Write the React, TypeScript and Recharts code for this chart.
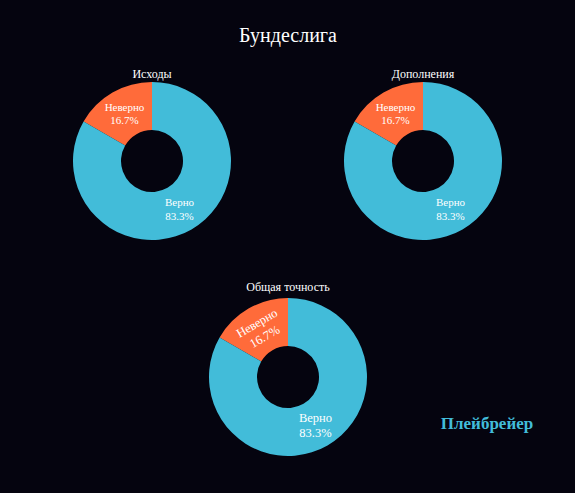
import { PieChart, Pie, Cell } from 'recharts';

const categories = ["Неверно", "Верно"];
const outcomesValues = [1, 5];
const additionsValues = [1, 5];
const overallValues = [1, 5];
const panelTitles = ["Исходы", "Дополнения", "Общая точность"];
const colors = ["#ff6b3a", "#42bcd9"];

const BG = "#05040f";
const FONT = "Liberation Serif";
const RAD = Math.PI / 180;

const toRows = (values: number[]) => categories.map((name, i) => ({ name, value: values[i] }));

const makeLabel = (fontSize: number, rotateWrong: boolean) => (props: any) => {
	const { cx, cy, midAngle, innerRadius, outerRadius, percent, name } = props;
	const r = (innerRadius + outerRadius) / 2;
	const x = cx + r * Math.cos(-midAngle * RAD);
	const y = cy + r * Math.sin(-midAngle * RAD);
	const rot = rotateWrong && name === "Неверно" ? -(midAngle - 90) : 0;
	return (
		<text
			x={x}
			y={y}
			fill="#fff"
			textAnchor="middle"
			style={{ fontFamily: FONT, fontSize }}
			transform={rot ? `rotate(${rot} ${x} ${y})` : undefined}
		>
			<tspan x={x} dy={-fontSize * 0.25}>{name}</tspan>
			<tspan x={x} dy={fontSize * 1.25}>{(percent * 100).toFixed(1)}%</tspan>
		</text>
	);
};

function Donut({ values, left, top, fontSize, rotateWrong }: { values: number[], left: number, top: number, fontSize: number, rotateWrong?: boolean }) {
	return (
		<div style={{ position: 'absolute', left, top }}>
			<PieChart width={170} height={170} margin={{ top: 0, right: 0, bottom: 0, left: 0 }}>
				<Pie
					data={toRows(values)}
					dataKey="value"
					cx={85}
					cy={85}
					innerRadius={31}
					outerRadius={79}
					startAngle={90}
					endAngle={450}
					stroke="none"
					labelLine={false}
					label={makeLabel(fontSize, !!rotateWrong)}
					isAnimationActive={false}
				>
					{categories.map((c, i) => <Cell key={c} fill={colors[i]} />)}
				</Pie>
			</PieChart>
		</div>
	);
}

const textStyle = (x: number, y: number, size: number): React.CSSProperties => ({
	position: 'absolute',
	left: x - 150,
	top: y - size * 0.6,
	width: 300,
	textAlign: 'center',
	fontFamily: FONT,
	fontSize: size,
	lineHeight: `${size * 1.2}px`,
	color: '#fff',
});

export default function App() {
	return (
		<div style={{ position: 'fixed', left: 0, top: 0, width: 575, height: 493, background: BG, overflow: 'hidden' }}>
			<div style={textStyle(288, 35, 20)}>Бундеслига</div>
			<div style={textStyle(152, 74, 12)}>{panelTitles[0]}</div>
			<div style={textStyle(423, 74, 12)}>{panelTitles[1]}</div>
			<div style={textStyle(288, 287, 12)}>{panelTitles[2]}</div>
			<Donut values={outcomesValues} left={152 - 85} top={160.5 - 85} fontSize={11} />
			<Donut values={additionsValues} left={423 - 85} top={160.5 - 85} fontSize={11} />
			<Donut values={overallValues} left={288 - 85} top={376.5 - 85} fontSize={12.5} rotateWrong />
			<div style={{ ...textStyle(487, 424, 17), color: '#42bcd9', fontWeight: 'bold' }}>Плейбрейер</div>
		</div>
	);
}
